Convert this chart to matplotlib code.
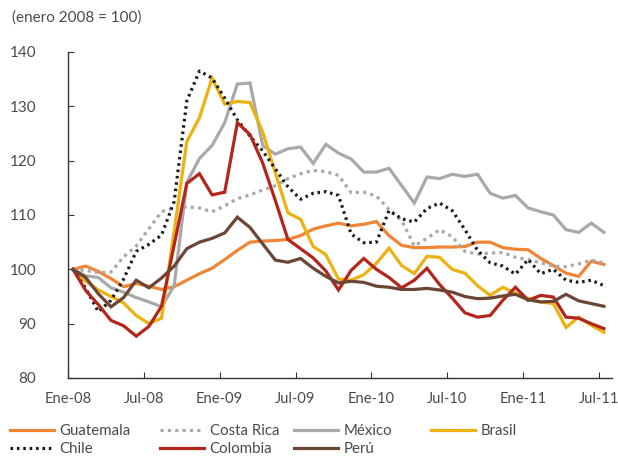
import numpy as np
import matplotlib
matplotlib.use("Agg")
import matplotlib.pyplot as plt

# indice mensual, enero 2008 = 100 (ene-08 ... jul-11)
guatemala = [100, 100.6, 99.6, 98.3, 96.8, 97.4, 96.9, 96.3, 96.8, 98.0, 99.2, 100.2, 101.8,
             103.5, 105.0, 105.2, 105.3, 105.5, 106.2, 107.4, 108.0, 108.5, 108.0, 108.3, 108.8,
             106.2, 104.4, 104.0, 104.0, 104.1, 104.1, 104.2, 105.0, 105.0, 104.0, 103.7, 103.6,
             102.0, 100.7, 99.3, 98.7, 101.5, 100.9]
costa_rica = [100, 99.8, 99.4, 99.5, 102.3, 104.3, 107.5, 110.6, 111.3, 111.5, 111.3, 110.6, 111.7,
              113.0, 113.7, 114.6, 115.4, 116.7, 117.6, 118.2, 118.0, 117.3, 114.1, 114.2, 113.5,
              111.0, 109.0, 104.3, 105.7, 107.3, 106.0, 103.3, 102.8, 103.0, 103.1, 102.2, 101.8,
              101.2, 100.6, 100.5, 101.0, 101.7, 101.2]
mexico = [100, 98.8, 98.5, 96.6, 95.8, 94.8, 94.0, 93.1, 97.0, 116.0, 120.4, 122.8, 127.0,
          134.1, 134.3, 122.8, 121.2, 122.2, 122.5, 119.5, 123.0, 121.4, 120.3, 117.9, 117.9,
          118.6, 115.4, 112.2, 117.0, 116.7, 117.5, 117.1, 117.5, 114.0, 113.1, 113.6, 111.3,
          110.6, 110.0, 107.3, 106.8, 108.5, 106.8]
brasil = [100, 97.8, 96.2, 95.0, 93.8, 91.5, 90.0, 91.0, 107.0, 123.5, 127.9, 135.2, 130.4,
          130.9, 130.7, 125.3, 117.8, 110.4, 109.2, 104.2, 102.7, 98.2, 98.0, 99.0, 101.1,
          103.9, 100.7, 99.2, 102.4, 102.2, 100.0, 99.3, 97.0, 95.2, 96.7, 95.6, 94.7,
          94.0, 93.7, 89.3, 91.2, 89.7, 88.4]
chile = [100, 96.5, 92.2, 94.3, 98.2, 103.3, 104.6, 106.3, 112.5, 131.0, 136.5, 135.2, 131.5,
         127.5, 124.5, 121.8, 118.5, 115.2, 112.9, 114.0, 114.3, 113.6, 106.5, 104.9, 105.0,
         110.8, 109.3, 108.7, 111.2, 112.2, 110.8, 107.3, 103.5, 101.2, 100.6, 99.1, 101.8,
         99.2, 100.0, 98.0, 97.6, 98.0, 97.0]
colombia = [100, 96.1, 93.5, 90.6, 89.6, 87.7, 89.5, 93.2, 104.5, 115.8, 117.6, 113.7, 114.2,
            127.0, 124.8, 119.6, 112.7, 105.5, 103.8, 102.1, 99.7, 96.2, 99.8, 102.0, 100.0,
            98.5, 96.6, 98.0, 100.2, 97.2, 94.7, 92.0, 91.2, 91.5, 94.3, 96.7, 94.3,
            95.2, 94.9, 91.2, 91.0, 90.0, 89.1]
peru = [100, 98.5, 95.5, 93.1, 94.8, 98.0, 96.6, 98.4, 100.6, 103.8, 105.0, 105.7, 106.7,
        109.6, 107.7, 104.7, 101.7, 101.3, 102.0, 100.2, 98.7, 97.5, 97.8, 97.6, 96.9,
        96.7, 96.3, 96.3, 96.5, 96.2, 95.8, 95.0, 94.6, 94.7, 95.1, 95.4, 94.4,
        94.0, 94.1, 95.4, 94.2, 93.7, 93.2]

tick_labels = ["Ene-08", "Jul-08", "Ene-09", "Jul-09", "Ene-10", "Jul-10", "Ene-11", "Jul-11"]

plt.rcParams["font.family"] = ["Lato", "DejaVu Sans"]
txt = "#4a4a4a"

fig = plt.figure(figsize=(6.18, 4.59), dpi=100)
ax = fig.add_axes([68 / 618, 1 - 378 / 459, 544 / 618, 326 / 459])

x = np.arange(len(guatemala)) + 0.4
lw = 2.3
series = [
    ("Guatemala", guatemala, dict(color="#F08536", lw=lw)),
    ("Costa Rica", costa_rica, dict(color="#A9A9AC", lw=lw, ls=(0, (1, 1.3)))),
    ("México", mexico, dict(color="#A9A9AC", lw=lw)),
    ("Brasil", brasil, dict(color="#EDB110", lw=lw)),
    ("Chile", chile, dict(color="#1a1a1a", lw=lw, ls=(0, (0.8, 1.2)))),
    ("Colombia", colombia, dict(color="#B3261B", lw=lw)),
    ("Perú", peru, dict(color="#6B4535", lw=lw)),
]
handles = {}
for name, vals, style in series:
    handles[name], = ax.plot(x, vals, solid_joinstyle="miter", **style)

ax.set_xlim(0, 43.04)
ax.set_ylim(80, 140)
ax.set_yticks(np.arange(80, 141, 10))
ax.set_xticks(np.arange(0, 43, 6))
ax.set_xticklabels(tick_labels)
for s in ["top", "right"]:
    ax.spines[s].set_visible(False)
for s in ["left", "bottom"]:
    ax.spines[s].set_color("#333333")
    ax.spines[s].set_linewidth(1.0)
ax.tick_params(axis="y", direction="in", length=4, pad=23, labelsize=11, colors="#333333",
               labelcolor=txt)
ax.tick_params(axis="x", direction="in", length=4, pad=10, labelsize=10.6, colors="#333333",
               labelcolor=txt)

fig.text(12 / 618, 1 - 18 / 459, "(enero 2008 = 100)", fontsize=11, color=txt,
         ha="left", va="center")

# leyenda en cuatro columnas, posicion como en el original
cols = [(["Guatemala", "Chile"], 10), (["Costa Rica", "Colombia"], 160),
        (["México", "Perú"], 294), (["Brasil"], 431)]
for names, xpos in cols:
    leg = fig.legend([handles[n] for n in names], names, loc="upper left",
                     bbox_to_anchor=(xpos / 618, 1 - 424 / 459), frameon=False,
                     fontsize=10.8, handlelength=2.9, handletextpad=0.4,
                     labelspacing=0.25, borderpad=0, borderaxespad=0)
    for t in leg.get_texts():
        t.set_color(txt)

fig.savefig("out.png", dpi=100)
